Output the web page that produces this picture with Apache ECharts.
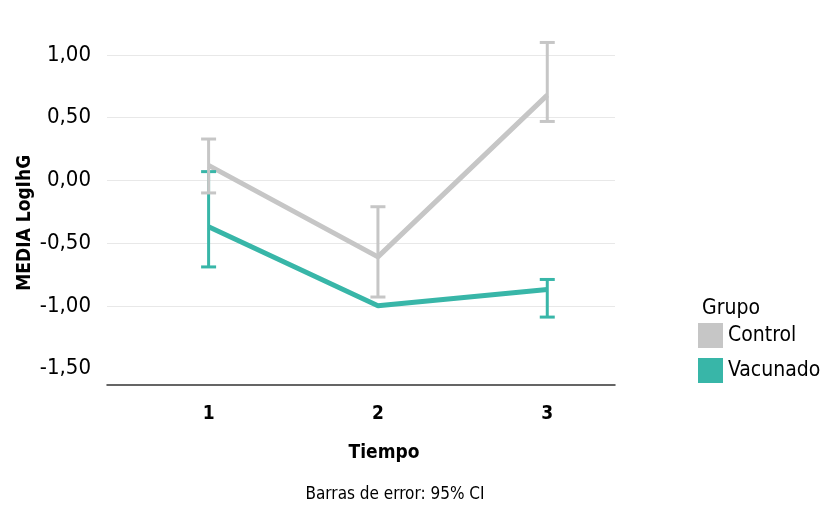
<!DOCTYPE html>
<html>
<head>
<meta charset="utf-8">
<script src="https://cdn.jsdelivr.net/npm/echarts@6/dist/echarts.min.js"></script>
<style>
  html, body { margin: 0; padding: 0; background: #fff; }
  #grafico { width: 830px; height: 510px; }
</style>
</head>
<body>
<div id="grafico"></div>
<script>
var tiempos = [1, 2, 3];
var controlMedia = [0.12, -0.61, 0.68];
var controlInf = [-0.10, -0.93, 0.47];
var controlSup = [0.33, -0.21, 1.10];
var vacunadoMedia = [-0.37, -1.00, -0.87];
var vacunadoInf = [-0.69, null, -1.09];
var vacunadoSup = [0.07, null, -0.79];
var yTicks = [-1.5, -1.0, -0.5, 0, 0.5, 1.0];

var fuente = '"Liberation Sans Narrow", "DejaVu Sans Condensed", sans-serif';
var gris = '#c6c6c6';
var verde = '#38b6a8';

var grafico = echarts.init(document.getElementById('grafico'));

function puntos(medias) {
    var out = [];
    for (var i = 0; i < tiempos.length; i++) {
        out.push([tiempos[i], medias[i]]);
    }
    return out;
}

function barras(inf, sup) {
    var out = [];
    for (var i = 0; i < tiempos.length; i++) {
        if (inf[i] == null || sup[i] == null) continue;
        out.push([tiempos[i], inf[i], sup[i]]);
    }
    return out;
}

// barra de error: linea vertical + dos topes
function dibujaBarra(color) {
    return function (params, api) {
        var bajo = api.coord([api.value(0), api.value(1)]);
        var alto = api.coord([api.value(0), api.value(2)]);
        var medio = 7.5;
        var estilo = { stroke: color, lineWidth: 3 };
        return {
            type: 'group',
            children: [
                { type: 'line', shape: { x1: alto[0], y1: alto[1], x2: bajo[0], y2: bajo[1] }, style: estilo },
                { type: 'line', shape: { x1: alto[0] - medio, y1: alto[1], x2: alto[0] + medio, y2: alto[1] }, style: estilo },
                { type: 'line', shape: { x1: bajo[0] - medio, y1: bajo[1], x2: bajo[0] + medio, y2: bajo[1] }, style: estilo }
            ]
        };
    };
}

var option = {
    animation: false,
    textStyle: { fontFamily: fuente },
    title: [
        {
            text: 'Barras de error: 95% CI',
            left: 390, top: 481, textAlign: 'center',
            textStyle: { fontFamily: fuente, fontSize: 17, fontWeight: 'normal', color: '#000' }
        },
        {
            text: 'Grupo',
            left: 697, top: 293,
            textStyle: { fontFamily: fuente, fontSize: 21, fontWeight: 'normal', color: '#000' }
        }
    ],
    legend: {
        orient: 'vertical',
        left: 693, top: 318,
        icon: 'rect',
        itemWidth: 25, itemHeight: 25, itemGap: 10,
        textStyle: { fontFamily: fuente, fontSize: 21, color: '#000' },
        data: ['Control', 'Vacunado']
    },
    grid: { left: 107, right: 215, top: 55, bottom: 141.5 },
    xAxis: {
        type: 'value',
        min: 0.4, max: 3.4, interval: 0.2,
        offset: 16.5,
        name: 'Tiempo',
        nameLocation: 'middle',
        nameGap: 59,
        nameTextStyle: { fontFamily: fuente, fontSize: 19, fontWeight: 'bold', color: '#000', padding: [0, 0, 0, 46] },
        axisLine: { show: true, onZero: false, lineStyle: { color: '#333', width: 1.5 } },
        axisTick: { show: false },
        splitLine: { show: false },
        axisLabel: {
            margin: 20,
            fontFamily: fuente, fontSize: 19, fontWeight: 'bold', color: '#000',
            formatter: function (v) {
                for (var i = 0; i < tiempos.length; i++) {
                    if (Math.abs(v - tiempos[i]) < 1e-6) return String(tiempos[i]);
                }
                return '';
            }
        }
    },
    yAxis: {
        type: 'value',
        min: yTicks[0], max: yTicks[yTicks.length - 1], interval: 0.5,
        name: 'MEDIA LogIhG',
        nameLocation: 'middle',
        nameGap: 72,
        nameMoveOverlap: false,
        nameTextStyle: { fontFamily: fuente, fontSize: 19, fontWeight: 'bold', color: '#000', padding: [0, 22, 0, 0] },
        axisLine: { show: false },
        axisTick: { show: false },
        splitLine: { show: true, showMinLine: false, lineStyle: { color: '#e8e8e8', width: 1 } },
        axisLabel: {
            margin: 16,
            fontFamily: fuente, fontSize: 22, color: '#000',
            formatter: function (v) { return v.toFixed(2).replace('.', ','); }
        }
    },
    series: [
        {
            name: 'Control',
            type: 'line',
            data: puntos(controlMedia),
            symbol: 'none',
            color: gris,
            lineStyle: { color: gris, width: 5 },
            z: 2
        },
        {
            name: 'Vacunado',
            type: 'line',
            data: puntos(vacunadoMedia),
            symbol: 'none',
            color: verde,
            lineStyle: { color: verde, width: 5 },
            z: 3
        },
        {
            name: 'Control',
            type: 'custom',
            renderItem: dibujaBarra(gris),
            data: barras(controlInf, controlSup),
            encode: { x: 0, y: [1, 2] },
            z: 4
        },
        {
            name: 'Vacunado',
            type: 'custom',
            renderItem: dibujaBarra(verde),
            data: barras(vacunadoInf, vacunadoSup),
            encode: { x: 0, y: [1, 2] },
            z: 3
        }
    ]
};
grafico.setOption(option);
</script>
</body>
</html>
